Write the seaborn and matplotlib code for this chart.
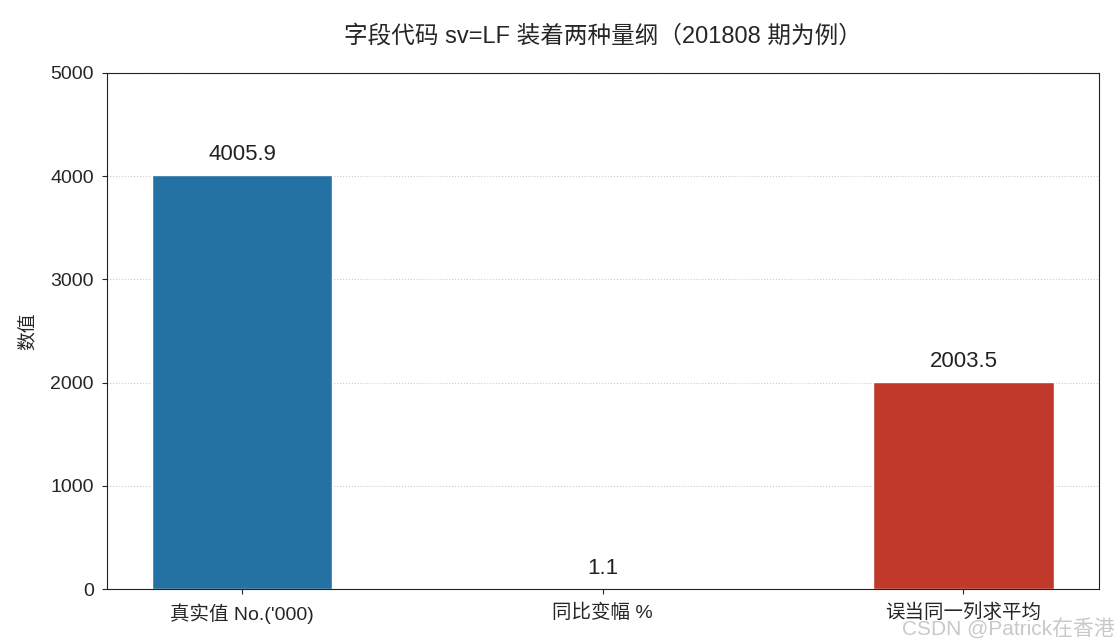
import seaborn as sns
import matplotlib.pyplot as plt
import pandas as pd

# 数据
categories = ["真实值 No.('000)", "同比变幅 %", "误当同一列求平均"]
values = [4005.9, 1.1, 2003.5]
colors = ["#2471a3", "#e67e22", "#c0392b"]
y_ticks = [0, 1000, 2000, 3000, 4000, 5000]

sns.set_style("ticks")
plt.rcParams['font.family'] = ['Liberation Sans', 'Noto Sans CJK SC', 'DejaVu Sans']

df = pd.DataFrame({"项目": categories, "数值": values})

fig, ax = plt.subplots(figsize=(11.2, 6.44), dpi=100)
sns.barplot(data=df, x="项目", y="数值", hue="项目", palette=colors,
            width=0.5, saturation=1, legend=False, ax=ax)

for i, v in enumerate(values):
    ax.text(i, v + 100, f"{v:.1f}", ha='center', va='bottom', fontsize=16, color='#222222')

ax.set_xlim(-0.375, 2.375)
ax.set_ylim(0, 5000)
ax.set_yticks(y_ticks)
ax.yaxis.grid(True, linestyle=':', color='#cccccc', linewidth=0.8)
ax.set_axisbelow(True)
ax.set_xlabel("")
ax.set_ylabel("数值", fontsize=13.5, labelpad=10)
ax.tick_params(labelsize=14)
ax.tick_params(axis='y', pad=6)
ax.tick_params(axis='x', pad=7)
for s in ax.spines.values():
    s.set_color('#222222')
ax.set_title("字段代码 sv=LF 装着两种量纲（201808 期为例）", fontsize=17, pad=22)

fig.text(0.995, 0.008, "CSDN @Patrick在香港", ha='right', va='bottom',
         fontsize=15, color='#bbbbbb', alpha=0.8)

plt.subplots_adjust(left=0.0955, right=0.981, top=0.887, bottom=0.0854)
plt.savefig("out.png")
